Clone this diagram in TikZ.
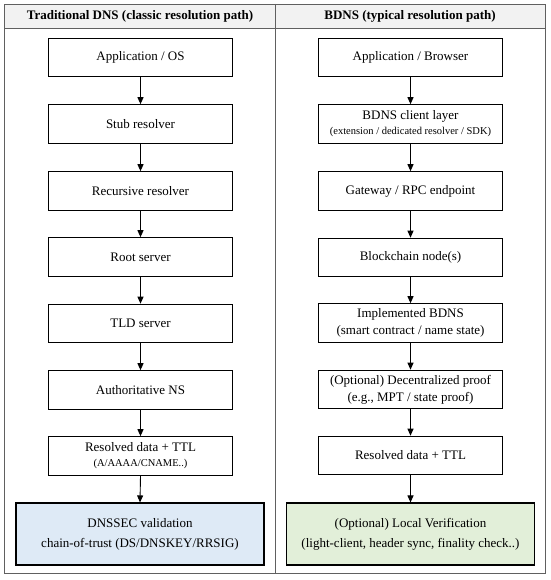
\documentclass[tikz,border=0pt]{standalone}
\usepackage{fontspec}
\setmainfont{Liberation Serif}
\usetikzlibrary{arrows.meta}
\definecolor{hdr}{HTML}{F2F2F2}
\definecolor{bluef}{HTML}{DEEAF6}
\definecolor{greenf}{HTML}{E2EFD9}
\definecolor{framec}{HTML}{606060}
\begin{document}
\begin{tikzpicture}[x=1pt,y=-1pt,
  box/.style={draw=black, line width=1.1pt, minimum width=184pt, minimum height=38.5pt,
    align=center, font=\fontsize{13}{17}\selectfont, inner sep=0pt},
  bigbox/.style={draw=black, line width=1.1pt, minimum width=248pt, minimum height=62pt,
    align=center, font=\fontsize{13}{20}\selectfont, inner sep=0pt},
  flow/.style={-{Triangle[length=7pt,width=6pt]}, line width=0.9pt},
  hd/.style={font=\fontsize{13}{15}\selectfont\bfseries, inner sep=0pt},
  panel/.style={draw=framec, line width=0.8pt}]
\useasboundingbox (0,0) rectangle (550,580);
\fill[white] (0,0) rectangle (550,580);
\fill[hdr] (4,4) rectangle (545,28);
\draw[panel] (4,4) rectangle (545,573);
\draw[panel] (4,28) -- (545,28);
\draw[panel] (275,4) -- (275,573);

\node[hd] (lh) at (140,16) {Traditional DNS (classic resolution path)};
\node[hd] (rh) at (410,16) {BDNS (typical resolution path)};

\node[box] (l1) at (140.5,57.5) {Application / OS};
\node[box] (l2) at (140.5,124) {Stub resolver};
\node[box] (l3) at (140.5,191) {Recursive resolver};
\node[box] (l4) at (140.5,257) {Root server};
\node[box] (l5) at (140.5,323.5) {TLD server};
\node[box] (l6) at (140.5,390) {Authoritative NS};
\node[box, font=\fontsize{13}{15}\selectfont] (l7) at (140.5,456) {Resolved data + TTL\\{\fontsize{10.5}{12}\selectfont (A/AAAA/CNAME..)}};
\node[bigbox, fill=bluef] (l8) at (140,534) {DNSSEC validation\\chain-of-trust (DS/DNSKEY/RRSIG)};

\node[box] (r1) at (410.5,57.5) {Application / Browser};
\node[box, font=\fontsize{13}{15}\selectfont] (r2) at (410.5,124) {BDNS client layer\\{\fontsize{10.5}{12}\selectfont (extension / dedicated resolver / SDK)}};
\node[box] (r3) at (410.5,191) {Gateway / RPC endpoint};
\node[box] (r4) at (410.5,257.5) {Blockchain node(s)};
\node[box] (r5) at (410.5,323) {Implemented BDNS\\(smart contract / name state)};
\node[box] (r6) at (410.5,389.5) {(Optional) Decentralized proof\\(e.g., MPT / state proof)};
\node[box] (r7) at (410.5,455.5) {Resolved data + TTL};
\node[bigbox, fill=greenf] (r8) at (410.5,534) {(Optional) Local Verification\\(light-client, header sync, finality check..)};

\foreach \a/\b in {l1/l2,l2/l3,l3/l4,l4/l5,l5/l6,l6/l7,l7/l8,r1/r2,r2/r3,r3/r4,r4/r5,r5/r6,r6/r7,r7/r8}
  \draw[flow] (\a.south) -- (\b.north);
\end{tikzpicture}
\end{document}
